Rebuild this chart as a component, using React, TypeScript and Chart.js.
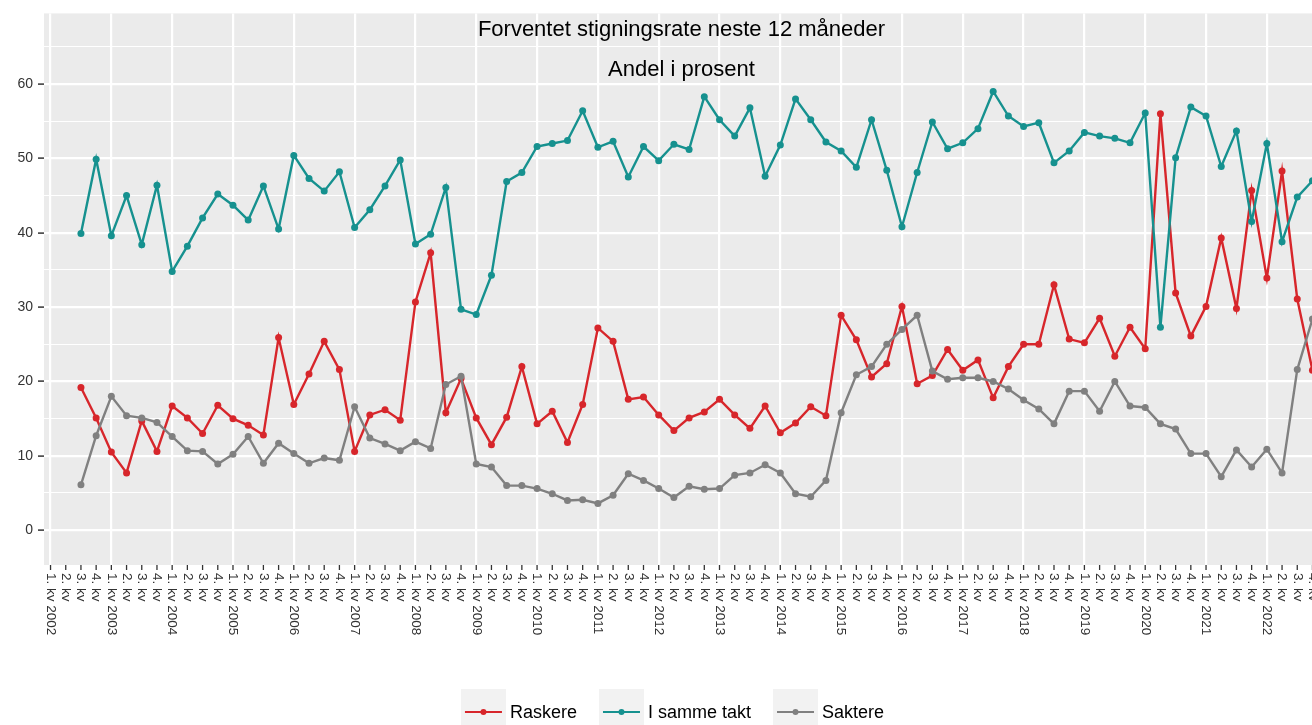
import React, { useEffect, useRef } from "react";
import { Chart, registerables } from "chart.js";

Chart.register(...registerables);

const FONT = "'Liberation Sans', Arial, Helvetica, sans-serif";

const titleText = "Forventet stigningsrate neste 12 måneder";
const subtitleText = "Andel i prosent";

const years = [2002, 2003, 2004, 2005, 2006, 2007, 2008, 2009, 2010, 2011, 2012, 2013, 2014, 2015, 2016, 2017, 2018, 2019, 2020, 2021, 2022];
const quarterNames = ["1. kv", "2. kv", "3. kv", "4. kv"];
const quarterLabels: string[] = years.flatMap((y) => [
  `${quarterNames[0]} ${y}`,
  quarterNames[1],
  quarterNames[2],
  quarterNames[3],
]);

// first observation is 3. kv 2002 (index 2)
const firstIndex = 2;

const raskere = [
  19.2, 15.1, 10.5, 7.7, 14.7, 10.6, 16.7, 15.1, 13.0, 16.8, 15.0, 14.1, 12.8, 25.9, 16.9, 21.0, 25.4, 21.6,
  10.6, 15.5, 16.2, 14.8, 30.7, 37.3, 15.8, 20.4, 15.1, 11.5, 15.2, 22.0, 14.3, 16.0, 11.8, 16.9, 27.2, 25.4,
  17.6, 17.9, 15.5, 13.4, 15.1, 15.9, 17.6, 15.5, 13.7, 16.7, 13.1, 14.4, 16.6, 15.4, 28.9, 25.6, 20.6, 22.4,
  30.1, 19.7, 20.8, 24.3, 21.5, 22.9, 17.8, 22.0, 25.0, 25.0, 33.0, 25.7, 25.2, 28.5, 23.4, 27.3, 24.4, 56.0,
  31.9, 26.1, 30.1, 39.3, 29.8, 45.7, 33.9, 48.3, 31.1, 21.5,
];

const iSammeTakt = [
  39.9, 49.9, 39.6, 45.0, 38.4, 46.4, 34.8, 38.2, 42.0, 45.2, 43.7, 41.7, 46.3, 40.5, 50.4, 47.3, 45.6, 48.2,
  40.7, 43.1, 46.3, 49.8, 38.5, 39.8, 46.1, 29.7, 29.0, 34.3, 46.9, 48.1, 51.6, 52.0, 52.4, 56.4, 51.5, 52.3,
  47.5, 51.6, 49.7, 51.9, 51.2, 58.3, 55.2, 53.0, 56.8, 47.6, 51.8, 58.0, 55.2, 52.2, 51.0, 48.8, 55.2, 48.4,
  40.8, 48.1, 54.9, 51.3, 52.1, 54.0, 59.0, 55.7, 54.3, 54.8, 49.4, 51.0, 53.5, 53.0, 52.7, 52.1, 56.1, 27.3,
  50.1, 56.9, 55.7, 48.9, 53.7, 41.5, 52.0, 38.8, 44.8, 47.0,
];

const saktere = [
  6.1, 12.7, 18.0, 15.4, 15.1, 14.5, 12.6, 10.7, 10.6, 8.9, 10.2, 12.6, 9.0, 11.7, 10.3, 9.0, 9.7, 9.4,
  16.6, 12.4, 11.6, 10.7, 11.9, 11.0, 19.6, 20.7, 8.9, 8.5, 6.0, 6.0, 5.6, 4.9, 4.0, 4.1, 3.6, 4.7,
  7.6, 6.7, 5.6, 4.4, 5.9, 5.5, 5.6, 7.4, 7.7, 8.8, 7.7, 4.9, 4.5, 6.7, 15.8, 20.9, 22.0, 25.0,
  27.0, 28.9, 21.4, 20.3, 20.5, 20.5, 20.0, 19.0, 17.5, 16.3, 14.3, 18.7, 18.7, 16.0, 20.0, 16.7, 16.5, 14.3,
  13.6, 10.3, 10.3, 7.2, 10.8, 8.5, 10.9, 7.7, 21.6, 28.4,
];

const seriesNames = ["Raskere", "I samme takt", "Saktere"];
const seriesColors = ["#D7262B", "#16918F", "#808080"];
const seriesValues = [raskere, iSammeTakt, saktere];

const yTickValues = [0, 5, 10, 15, 20, 25, 30, 35, 40, 45, 50, 55, 60, 65];

const W = 1345;
const H = 725;

const decorPlugin = {
  id: "decor",
  beforeDraw(chart: any) {
    const { ctx, chartArea: a } = chart;
    ctx.save();
    ctx.fillStyle = "#FFFFFF";
    ctx.fillRect(0, 0, chart.width, chart.height);
    ctx.fillStyle = "#EBEBEB";
    ctx.fillRect(a.left, a.top, a.right - a.left, a.bottom - a.top);
    ctx.restore();
  },
  afterDraw(chart: any) {
    const { ctx, chartArea: a } = chart;
    const xs = chart.scales.x;
    ctx.save();
    // x ticks and rotated labels
    ctx.strokeStyle = "#333333";
    ctx.lineWidth = 1.3;
    ctx.fillStyle = "#333333";
    ctx.font = `13.5px ${FONT}`;
    quarterLabels.forEach((lab, i) => {
      const px = xs.getPixelForValue(i);
      ctx.beginPath();
      ctx.moveTo(px, a.bottom);
      ctx.lineTo(px, a.bottom + 5);
      ctx.stroke();
      ctx.save();
      ctx.translate(px, a.bottom + 8);
      ctx.rotate(Math.PI / 2);
      ctx.textAlign = "left";
      ctx.textBaseline = "middle";
      ctx.fillText(lab, 0, 0);
      ctx.restore();
    });

    // titles inside the panel
    const cx = (a.left + a.right) / 2;
    ctx.fillStyle = "#000000";
    ctx.font = `22px ${FONT}`;
    ctx.textAlign = "center";
    ctx.textBaseline = "middle";
    ctx.fillText(titleText, cx, a.top + 17);
    ctx.fillText(subtitleText, cx, a.top + 57);

    // legend
    ctx.font = `18px ${FONT}`;
    const keyW = 45;
    const gapText = 4;
    const gapItem = 22;
    const widths = seriesNames.map((n) => ctx.measureText(n).width);
    const total = widths.reduce((s, w) => s + keyW + gapText + w, 0) + gapItem * (seriesNames.length - 1);
    let x = chart.width / 2 - total / 2;
    const keyTop = 689;
    const keyH = 45;
    const midY = keyTop + 23;
    seriesNames.forEach((n, k) => {
      ctx.fillStyle = "#F2F2F2";
      ctx.fillRect(x, keyTop, keyW, keyH);
      ctx.strokeStyle = seriesColors[k];
      ctx.lineWidth = 2.2;
      ctx.beginPath();
      ctx.moveTo(x + 4, midY);
      ctx.lineTo(x + keyW - 4, midY);
      ctx.stroke();
      ctx.fillStyle = seriesColors[k];
      ctx.beginPath();
      ctx.arc(x + keyW / 2, midY, 3, 0, Math.PI * 2);
      ctx.fill();
      ctx.fillStyle = "#000000";
      ctx.textAlign = "left";
      ctx.textBaseline = "middle";
      ctx.fillText(n, x + keyW + gapText, midY + 1);
      x += keyW + gapText + widths[k] + gapItem;
    });
    ctx.restore();
  },
};

export default function App() {
  const canvasRef = useRef<HTMLCanvasElement | null>(null);

  useEffect(() => {
    if (!canvasRef.current) return;
    const datasets = seriesNames.map((name, k) => ({
      label: name,
      data: seriesValues[k].map((v, j) => ({ x: firstIndex + j, y: v })),
      borderColor: seriesColors[k],
      backgroundColor: seriesColors[k],
      borderWidth: 2.4,
      pointRadius: 3.5,
      pointBorderWidth: 0,
      pointHoverRadius: 3.5,
      tension: 0,
      order: 2 - k,
    }));

    const chart = new Chart(canvasRef.current, {
      type: "line",
      data: { datasets },
      options: {
        responsive: false,
        animation: false,
        devicePixelRatio: 1,
        layout: { padding: { top: 10, right: 26, left: 0, bottom: 0 } },
        plugins: {
          legend: { display: false },
          title: { display: false },
          tooltip: { enabled: false },
        },
        scales: {
          x: {
            type: "linear",
            min: -0.43,
            max: quarterLabels.length - 1 + 0.43,
            afterBuildTicks: (s: any) => {
              s.ticks = quarterLabels.map((_, i) => ({ value: i }));
            },
            afterFit: (s: any) => {
              s.height = 160;
            },
            grid: {
              color: (c: any) => (c.index % 4 === 0 ? "#FFFFFF" : "rgba(0,0,0,0)"),
              lineWidth: 2.2,
              drawTicks: false,
            },
            border: { display: false },
            ticks: { display: false },
          },
          y: {
            min: -4.68,
            max: 69.5,
            afterBuildTicks: (s: any) => {
              s.ticks = yTickValues.map((v) => ({ value: v }));
            },
            afterFit: (s: any) => {
              s.width = 44;
            },
            grid: {
              color: "#FFFFFF",
              lineWidth: (c: any) => (c.tick && c.tick.value % 10 === 0 ? 2.2 : 1.1),
              drawTicks: true,
              tickLength: 6,
              tickWidth: 1.5,
              tickColor: (c: any) => (c.tick && c.tick.value % 10 === 0 ? "#333333" : "rgba(0,0,0,0)"),
            },
            border: { display: false },
            ticks: {
              callback: (v: any) => (Number(v) % 10 === 0 ? String(v) : ""),
              color: "#333333",
              font: { size: 14, family: FONT },
              padding: 5,
            },
          },
        },
      },
      plugins: [decorPlugin],
    } as any);

    return () => chart.destroy();
  }, []);

  return (
    <div
      style={{
        position: "fixed",
        left: 0,
        top: 0,
        width: 1312,
        height: 725,
        overflow: "hidden",
        background: "#FFFFFF",
      }}
    >
      <canvas ref={canvasRef} width={W} height={H} style={{ width: W, height: H, display: "block" }} />
    </div>
  );
}
